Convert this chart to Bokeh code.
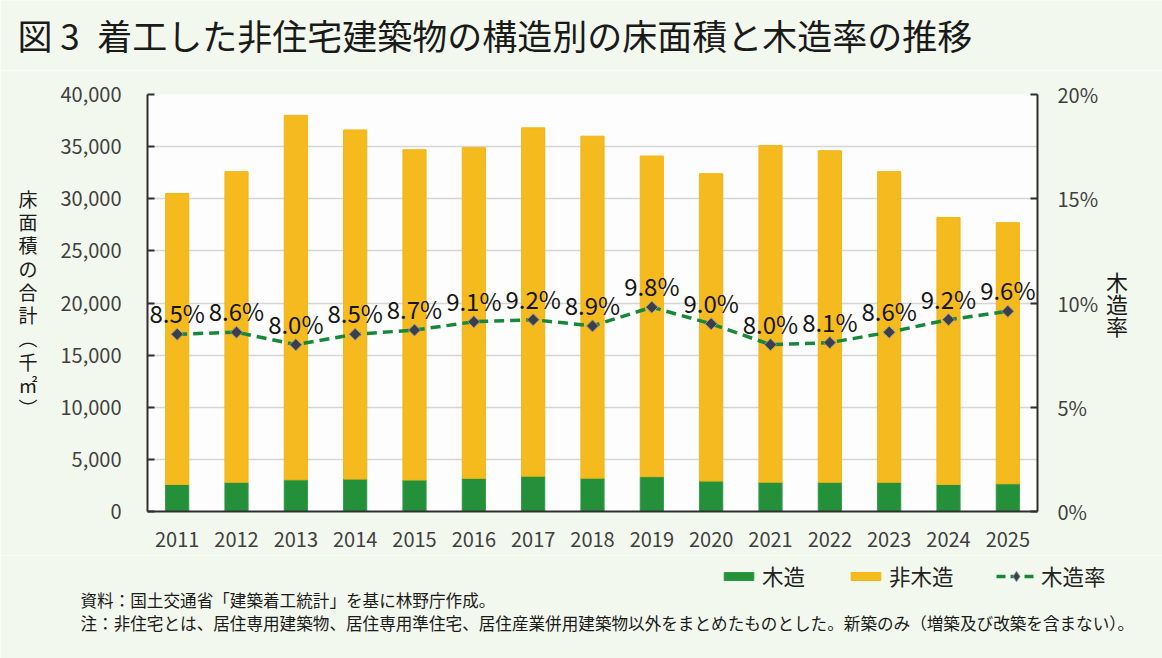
from bokeh.plotting import figure
from bokeh.layouts import column
from bokeh.models import (Range1d, LinearAxis, FixedTicker, NumeralTickFormatter,
                          PrintfTickFormatter, ColumnDataSource, LabelSet, Label,
                          Legend, LegendItem)
from bokeh.core.properties import value
from bokeh.embed import file_html
from bokeh.resources import INLINE
import math

# ---- data -------------------------------------------------------------
years = [2011, 2012, 2013, 2014, 2015, 2016, 2017, 2018,
         2019, 2020, 2021, 2022, 2023, 2024, 2025]
year_labels = [str(y) for y in years]
# floor area, thousand m2
wood = [2590, 2800, 3040, 3110, 3020, 3180, 3390, 3200,
        3340, 2920, 2810, 2800, 2800, 2590, 2660]
non_wood = [27910, 29800, 34960, 33490, 31680, 31720, 33410, 32800,
            30760, 29480, 32290, 31800, 29800, 25610, 25040]
# wooden share, %
wood_rate = [8.5, 8.6, 8.0, 8.5, 8.7, 9.1, 9.2, 8.9,
             9.8, 9.0, 8.0, 8.1, 8.6, 9.2, 9.6]

left_ticks = [0, 5000, 10000, 15000, 20000, 25000, 30000, 35000, 40000]
right_ticks = [0, 5, 10, 15, 20]

series_names = ["木造", "非木造", "木造率"]
heading = "図 3\u2002着工した非住宅建築物の構造別の床面積と木造率の推移"
notes = ["資料：国土交通省「建築着工統計」を基に林野庁作成。",
         "注：非住宅とは、居住専用建築物、居住専用準住宅、居住産業併用建築物以外を"
         "まとめたものとした。新築のみ（増築及び改築を含まない）。"]

FONT = "Noto Sans CJK JP"
BG = "#f3f8ee"
GREEN = "#24913a"
GREEN_EDGE = "#2a9a44"
YELLOW = "#f5bb1e"
YELLOW_EDGE = "#f2b416"
LINE_GREEN = "#17873a"
MARK_FILL = "#3c3e4a"
MARK_EDGE = "#8c97a6"
W = 1162


def blank_panel(height):
    """A figure without axes whose frame fills it; coordinates are pixels from top-left."""
    f = figure(width=W, height=height, x_range=Range1d(0, W), y_range=Range1d(height, 0),
               x_axis_type=None, y_axis_type=None, output_backend="svg",
               toolbar_location=None, min_border=0)
    f.frame_align = False
    f.grid.visible = False
    f.outline_line_color = None
    f.background_fill_color = BG
    f.border_fill_color = BG
    return f


# ---- heading ----------------------------------------------------------
top = blank_panel(70)
top.add_layout(Label(x=17, y=34, text=heading, text_font=FONT, text_font_size="35px",
                     text_color="#1a1a1a", text_baseline="middle"))

# ---- main chart -------------------------------------------------------
src = ColumnDataSource(dict(
    year=years,
    wood=wood,
    non_wood=non_wood,
    rate=wood_rate,
    rate_label=[f"{r:.1f}%" for r in wood_rate],
))

p = figure(width=W, height=485,
           x_range=Range1d(2010.5, 2025.5), y_range=Range1d(0, 40000),
           output_backend="svg", toolbar_location=None,
           min_border_left=147, min_border_right=125,
           min_border_top=24, min_border_bottom=44)
p.frame_align = False
p.background_fill_color = "#fdfdfd"
p.border_fill_color = BG
p.outline_line_color = None
p.extra_y_ranges = {"pct": Range1d(0, 20)}

p.xgrid.grid_line_color = None
p.ygrid.ticker = FixedTicker(ticks=left_ticks)
p.ygrid.grid_line_color = "#d6d6d6"
p.ygrid.grid_line_width = 1.5

p.vbar_stack(["wood", "non_wood"], x="year", width=0.39, source=src,
             fill_color=[GREEN, YELLOW], line_color=[GREEN_EDGE, YELLOW_EDGE],
             line_width=1)

p.line(x="year", y="rate", source=src, y_range_name="pct",
       line_color=LINE_GREEN, line_width=3.5, line_dash="10 6")
p.scatter(x="year", y="rate", source=src, y_range_name="pct",
          marker="square", angle=math.pi / 4, size=8.5,
          fill_color=MARK_FILL, line_color=MARK_EDGE, line_width=1)

p.add_layout(LabelSet(x="year", y="rate", text="rate_label", source=src,
                      y_range_name="pct", y_offset=11,
                      text_align="center", text_baseline="alphabetic",
                      text_font=value(FONT), text_font_size="24px",
                      text_color="#151515"))

lax = p.yaxis[0]
lax.ticker = FixedTicker(ticks=left_ticks)
lax.formatter = NumeralTickFormatter(format="0,0")
lax.axis_label = "床\n面\n積\nの\n合\n計\n︵\n千\n㎡\n︶"
lax.axis_label_standoff = 20

rax = LinearAxis(y_range_name="pct", ticker=FixedTicker(ticks=right_ticks),
                 formatter=PrintfTickFormatter(format="%d%%"))
rax.axis_label = "木\n造\n率"
rax.axis_label_standoff = 5
p.add_layout(rax, "right")

for ax, standoff, lh, fs in ((lax, 26, 0.86, "19px"), (rax, 20, 0.70, "22px")):
    ax.major_tick_in = 7
    ax.major_tick_out = 0
    ax.minor_tick_line_color = None
    ax.axis_line_color = "#2f2f2f"
    ax.axis_line_width = 2
    ax.major_tick_line_color = "#2f2f2f"
    ax.major_tick_line_width = 2
    ax.major_label_standoff = standoff
    ax.major_label_text_font = FONT
    ax.major_label_text_font_size = "20px"
    ax.major_label_text_color = "#3f3f3f"
    ax.axis_label_orientation = "horizontal"
    ax.axis_label_text_font = FONT
    ax.axis_label_text_font_size = fs
    ax.axis_label_text_font_style = "normal"
    ax.axis_label_text_color = "#1a1a1a"
    ax.axis_label_text_line_height = lh

bax = p.xaxis[0]
bax.ticker = FixedTicker(ticks=years)
bax.major_label_overrides = {y: lab for y, lab in zip(years, year_labels)}
bax.major_tick_line_color = None
bax.minor_tick_line_color = None
bax.axis_line_color = "#2f2f2f"
bax.axis_line_width = 2
bax.major_label_standoff = 14
bax.major_label_text_font = FONT
bax.major_label_text_font_size = "20px"
bax.major_label_text_color = "#3f3f3f"

# ---- legend and notes -------------------------------------------------
bottom = blank_panel(103)
nan = float("nan")
key_wood = bottom.vbar(x=[nan], top=[nan], width=1, fill_color=GREEN, line_color=GREEN_EDGE)
key_non = bottom.vbar(x=[nan], top=[nan], width=1, fill_color=YELLOW, line_color=YELLOW_EDGE)
key_line = bottom.line(x=[nan], y=[nan], line_color=LINE_GREEN, line_width=3.5, line_dash="9 5")
key_mark = bottom.scatter(x=[nan], y=[nan], marker="diamond", size=8.5,
                          fill_color=MARK_FILL, line_color=MARK_EDGE, line_width=1)

legend_style = dict(orientation="horizontal", label_height=24, label_standoff=5,
                    spacing=42, padding=0, margin=0,
                    border_line_color=None, background_fill_alpha=0,
                    label_text_font=FONT, label_text_font_size="21.5px",
                    label_text_color="#222222")

# bar swatches: flat rectangles
bottom.add_layout(Legend(items=[
    LegendItem(label=series_names[0], renderers=[key_wood]),
    LegendItem(label=series_names[1], renderers=[key_non]),
], location=(720, 67), glyph_width=37, glyph_height=10, **legend_style))

# line swatch: taller glyph box so the diamond keeps its size
bottom.add_layout(Legend(items=[
    LegendItem(label=series_names[2], renderers=[key_line, key_mark]),
], location=(996, 67), glyph_width=40, glyph_height=26, **legend_style))

for y, note in zip((44, 67), notes):
    bottom.add_layout(Label(x=80, y=y, text=note, text_font=FONT,
                            text_font_size="16.6px", text_color="#1a1a1a",
                            text_baseline="middle"))

layout = column(top, p, bottom, spacing=0)
open("out.html", "w").write(file_html(layout, INLINE))
